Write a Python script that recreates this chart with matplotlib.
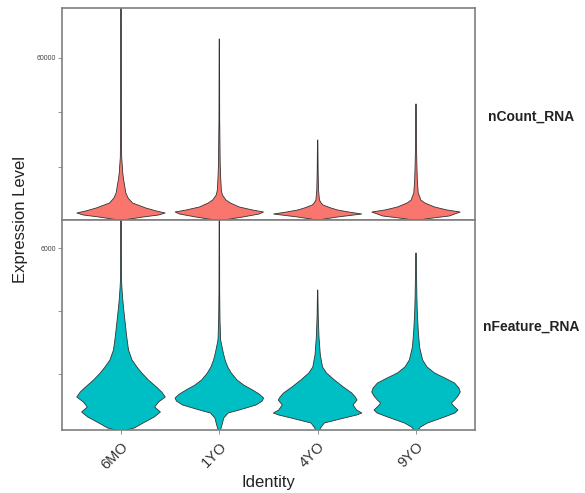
import matplotlib
matplotlib.use("Agg")
import matplotlib.pyplot as plt
from matplotlib.patches import Polygon

plt.rcParams['font.family'] = ['Liberation Sans', 'DejaVu Sans']

identities = ["6MO", "1YO", "4YO", "9YO"]
features = ["nCount_RNA", "nFeature_RNA"]
colors = ["#F8766D", "#00BFC4"]

# nCount_RNA violin profiles: (value levels, relative half-width)
count_6MO_v = [300, 734, 1468, 2202, 2936, 3670, 4771, 5872, 6606, 8441, 10276, 13212, 15047, 17616, 23488, 37067, 78171]
count_6MO_w = [0.02, 0.2, 0.5, 0.85, 1.0, 0.8, 0.56, 0.38, 0.26, 0.16, 0.11, 0.08, 0.06, 0.04, 0.015, 0.008, 0.004]
count_1YO_v = [300, 734, 1468, 2569, 3303, 4037, 5138, 6606, 7707, 9542, 11377, 16148, 20552, 37067, 66794]
count_1YO_w = [0.03, 0.25, 0.53, 0.9, 1.0, 0.75, 0.45, 0.25, 0.15, 0.07, 0.045, 0.03, 0.02, 0.008, 0.004]
count_4YO_v = [300, 734, 1468, 2569, 3303, 4037, 4771, 5872, 6606, 7707, 11377, 18717, 29727]
count_4YO_w = [0.03, 0.15, 0.45, 1.0, 0.7, 0.45, 0.3, 0.12, 0.08, 0.04, 0.02, 0.01, 0.004]
count_9YO_v = [300, 1101, 1835, 3303, 4037, 5138, 6606, 7707, 10276, 15047, 20552, 29727, 42939]
count_9YO_w = [0.03, 0.38, 0.75, 1.0, 0.7, 0.42, 0.2, 0.11, 0.05, 0.03, 0.02, 0.008, 0.004]

# nFeature_RNA violin profiles
feat_6MO_v = [190, 285, 444, 634, 793, 952, 1111, 1270, 1429, 1587, 1809, 2031, 2222, 2444, 2762, 3174, 3555, 3936, 4349, 4762, 5048, 5937, 7206]
feat_6MO_w = [0.02, 0.3, 0.5, 0.75, 0.89, 0.76, 0.85, 1.0, 0.92, 0.8, 0.62, 0.47, 0.36, 0.25, 0.17, 0.13, 0.1, 0.07, 0.04, 0.02, 0.01, 0.005, 0.004]
feat_1YO_v = [190, 381, 603, 762, 857, 1016, 1143, 1238, 1365, 1492, 1650, 1809, 2031, 2222, 2444, 2667, 3079, 3714, 4571, 7206]
feat_1YO_w = [0.02, 0.06, 0.1, 0.2, 0.45, 0.83, 0.97, 1.0, 0.9, 0.75, 0.55, 0.4, 0.27, 0.19, 0.13, 0.09, 0.03, 0.015, 0.008, 0.004]
feat_4YO_v = [200, 317, 444, 603, 698, 762, 857, 1016, 1174, 1270, 1397, 1587, 1809, 2031, 2222, 2603, 3174, 3873, 4667]
feat_4YO_w = [0.03, 0.08, 0.15, 0.6, 0.88, 1.0, 0.88, 0.8, 0.89, 0.85, 0.77, 0.58, 0.38, 0.2, 0.11, 0.06, 0.03, 0.012, 0.004]
feat_9YO_v = [200, 317, 444, 634, 762, 857, 984, 1079, 1174, 1301, 1429, 1555, 1714, 1873, 2031, 2222, 2444, 2857, 3397, 3936, 4444, 5841]
feat_9YO_w = [0.03, 0.1, 0.26, 0.64, 0.88, 0.95, 0.85, 0.8, 0.87, 0.95, 1.0, 0.97, 0.87, 0.65, 0.42, 0.25, 0.15, 0.08, 0.05, 0.03, 0.02, 0.004]

count_profiles = [(count_6MO_v, count_6MO_w), (count_1YO_v, count_1YO_w),
                  (count_4YO_v, count_4YO_w), (count_9YO_v, count_9YO_w)]
feat_profiles = [(feat_6MO_v, feat_6MO_w), (feat_1YO_v, feat_1YO_w),
                 (feat_4YO_v, feat_4YO_w), (feat_9YO_v, feat_9YO_w)]

count_ticks = [20000, 40000, 60000]
count_ticklabels = ["", "", "60000"]
feat_ticks = [2000, 4000, 6000]
feat_ticklabels = ["", "", "6000"]
count_ylim = (367, 78171)
feat_ylim = (222, 6889)

W, H = 585, 493
fig = plt.figure(figsize=(W / 100, H / 100), dpi=100)

left = 62 / W
right = 475 / W
ax_top = fig.add_axes([left, 1 - 220 / H, right - left, (220 - 8) / H])
ax_bot = fig.add_axes([left, 1 - 430 / H, right - left, (430 - 220) / H])

half = 0.45
border = "#7f7f7f"

def draw(ax, profiles, color, ticks, ticklabels, ylim):
    for i, (v, w) in enumerate(profiles):
        x = i + 1
        pts = [(x + half * ww, vv) for vv, ww in zip(v, w)]
        pts += [(x - half * ww, vv) for vv, ww in zip(v[::-1], w[::-1])]
        ax.add_patch(Polygon(pts, closed=True, facecolor=color,
                             edgecolor="#333333", linewidth=0.6, zorder=2))
    ax.set_xlim(0.4, 4.6)
    ax.set_ylim(*ylim)
    ax.set_yticks(ticks)
    ax.set_yticklabels(ticklabels, fontsize=5, color="#444444")
    for s in ax.spines.values():
        s.set_color(border)
        s.set_linewidth(1.2)
    ax.tick_params(axis="y", length=3, width=0.6, color=border, pad=1.5)
    ax.tick_params(axis="x", length=3, width=0.6, color=border)

draw(ax_top, count_profiles, colors[0], count_ticks, count_ticklabels, count_ylim)
draw(ax_bot, feat_profiles, colors[1], feat_ticks, feat_ticklabels, feat_ylim)

ax_top.set_xticks([1, 2, 3, 4])
ax_top.set_xticklabels([])
ax_top.tick_params(axis="x", length=0)
ax_bot.set_xticks([1, 2, 3, 4])
ax_bot.set_xticklabels(identities, rotation=45, ha="right", va="top",
                       rotation_mode="anchor", fontsize=10.5, color="#333333")
ax_bot.tick_params(axis="x", pad=4)

ax_bot.set_xlabel("Identity", fontsize=12, color="#222222", labelpad=2)
fig.text(20 / W, 1 - 220 / H, "Expression Level", rotation=90, fontsize=12,
         color="#222222", ha="center", va="center")

fig.text(531 / W, 1 - 117 / H, features[0], fontsize=10, fontweight="bold",
         ha="center", va="center", color="#222222")
fig.text(531 / W, 1 - 327 / H, features[1], fontsize=10, fontweight="bold",
         ha="center", va="center", color="#222222")

fig.savefig("out.png", dpi=100)
